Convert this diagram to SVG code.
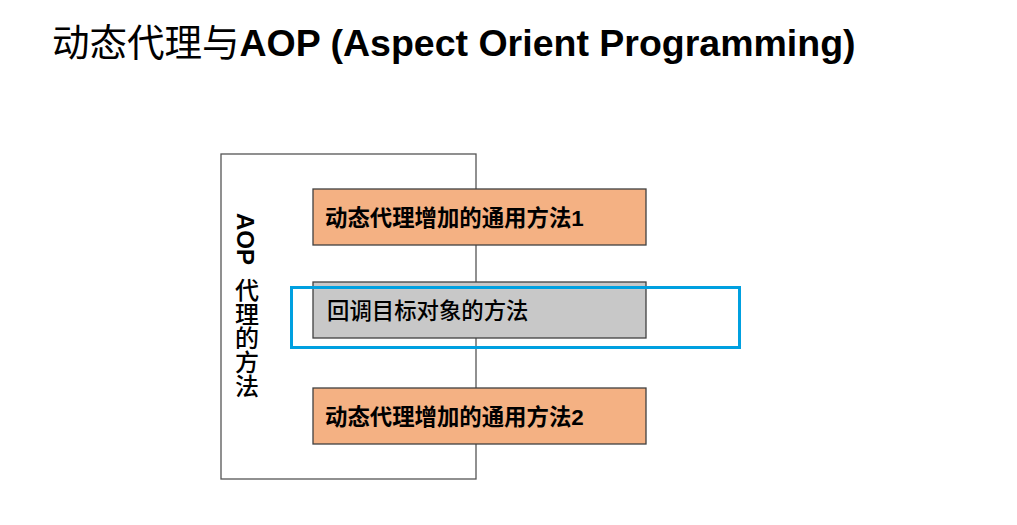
<svg xmlns="http://www.w3.org/2000/svg" width="1017" height="525" viewBox="0 0 1017 525">
<style>
.cjk{font-family:"Liberation Sans","Noto Sans CJK SC",sans-serif}
.title{font-size:37.5px;fill:#000}
.b{font-weight:bold}
.m{font-weight:500}
.box{stroke:#404040;stroke-width:1.3}
.orange{fill:#F4B183}
.gray{fill:#C8C8C8}
.lbl{font-size:22.4px;fill:#000}
</style>
<rect width="1017" height="525" fill="#fff"/>
<text class="cjk title" x="52" y="56">动态代理与<tspan class="b">AOP (Aspect Orient Programming)</tspan></text>
<g id="container">
<rect x="221" y="154" width="255" height="325" fill="#fff" stroke="#555" stroke-width="1.3"/>
<text class="cjk" x="245" y="213" font-size="24" style="writing-mode:vertical-rl"><tspan class="b">AOP</tspan><tspan class="m" dy="6"> 代理的方法</tspan></text>
</g>
<g id="connectors"></g>
<g id="advice1">
<rect class="box orange" x="313" y="189" width="333" height="56"/>
<text class="cjk lbl b" x="325" y="226">动态代理增加的通用方法1</text>
</g>
<g id="target">
<rect class="box gray" x="313" y="282" width="333" height="56"/>
<text class="cjk lbl m" x="327" y="319">回调目标对象的方法</text>
</g>
<g id="advice2">
<rect class="box orange" x="313" y="388" width="333" height="56"/>
<text class="cjk lbl b" x="325" y="425">动态代理增加的通用方法2</text>
</g>
<g id="highlight">
<rect x="291.5" y="287.5" width="448" height="60" fill="none" stroke="#00A0E0" stroke-width="3"/>
</g>
</svg>
